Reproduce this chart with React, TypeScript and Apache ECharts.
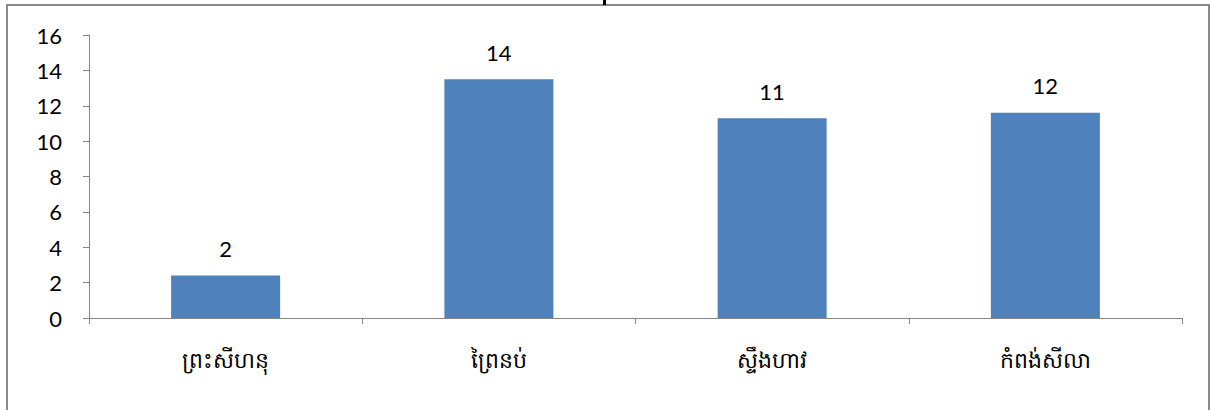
import React, { useEffect, useRef } from "react";
import * as echarts from "echarts";

const categories = ["ព្រះសីហនុ", "ព្រៃនប់", "ស្ទឹងហាវ", "កំពង់សីលា"];
const values = [2.4, 13.5, 11.3, 11.6];
const yMin = 0;
const yMax = 16;
const yInterval = 2;

export default function App() {
  const ref = useRef<HTMLDivElement>(null);
  useEffect(() => {
    document.body.style.margin = "0";
    const chart = echarts.init(ref.current!, null, { renderer: "svg" });
    const axisColor = "#868686";
    chart.setOption({
      animation: false,
      backgroundColor: "#ffffff",
      grid: { left: 89, right: 28, top: 35, bottom: 92 },
      xAxis: {
        type: "category",
        data: categories,
        boundaryGap: true,
        axisLine: { show: true, lineStyle: { color: axisColor, width: 1 } },
        axisTick: { show: true, length: 6, interval: 0, lineStyle: { color: axisColor } },
        axisLabel: {
          interval: 0,
          margin: 30,
          fontSize: 22,
          color: "#000",
          fontFamily: "'Noto Sans', 'DejaVu Sans', sans-serif",
        },
      },
      yAxis: {
        type: "value",
        min: yMin,
        max: yMax,
        interval: yInterval,
        splitLine: { show: false },
        axisLine: { show: true, lineStyle: { color: axisColor, width: 1 } },
        axisTick: { show: true, length: 6, lineStyle: { color: axisColor } },
        axisLabel: {
          margin: 27,
          fontSize: 22,
          color: "#000",
          fontFamily: "Lato, 'Open Sans', sans-serif",
        },
      },
      series: [
        {
          type: "bar",
          data: values,
          barWidth: 109,
          itemStyle: { color: "#4F81BD" },
          label: {
            show: true,
            position: "top",
            distance: 16,
            fontSize: 22,
            color: "#000",
            fontFamily: "Lato, 'Open Sans', sans-serif",
            formatter: (p: any) => String(Math.round(p.value)),
          },
        },
      ],
      graphic: [
        {
          type: "rect",
          silent: true,
          shape: { x: 7, y: 5, width: 1202, height: 430 },
          style: { fill: "none", stroke: "#898989", lineWidth: 2 },
        },
        {
          type: "rect",
          silent: true,
          shape: { x: 603, y: 0, width: 3, height: 5 },
          style: { fill: "#000" },
        },
      ],
    });
    return () => chart.dispose();
  }, []);
  return (
    <div
      ref={ref}
      style={{ position: "absolute", left: 0, top: 0, width: 1210, height: 410 }}
    />
  );
}
